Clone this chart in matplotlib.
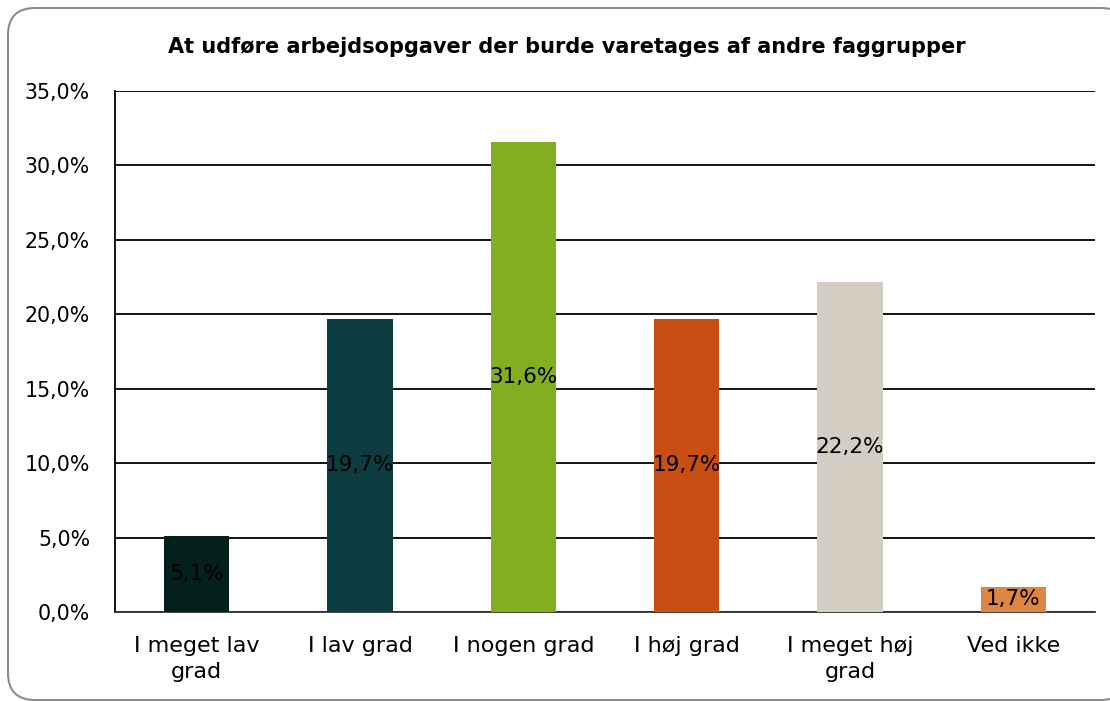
import matplotlib.pyplot as plt
from matplotlib.patches import FancyBboxPatch

categories = ["I meget lav\ngrad", "I lav grad", "I nogen grad", "I høj grad", "I meget høj\ngrad", "Ved ikke"]
values = [5.1, 19.7, 31.6, 19.7, 22.2, 1.7]
colors = ["#03201c", "#0d3c40", "#84ae22", "#c94e11", "#d4cec2", "#dd8641"]
yticks = [0, 5, 10, 15, 20, 25, 30, 35]

fig = plt.figure(figsize=(11.1, 7.01), dpi=100)
# afrundet ramme (i tommer)
frame = FancyBboxPatch((0.08, 0.01), 11.2, 6.92,
                       boxstyle="round,pad=0,rounding_size=0.27",
                       transform=fig.dpi_scale_trans, facecolor="white",
                       edgecolor="#8c8c8c", linewidth=1.5, zorder=-1)
fig.patches.append(frame)

ax = fig.add_axes([115 / 1110, 1 - 612 / 701, 980 / 1110, 521 / 701])
ax.set_facecolor("none")
x = range(len(categories))
bars = ax.bar(x, values, width=0.4, color=colors, zorder=3)
for b, v in zip(bars, values):
    ax.text(b.get_x() + b.get_width() / 2, v / 2, f"{v:.1f}%".replace(".", ","),
            ha="center", va="center", fontsize=15.5, color="black", zorder=4)

ax.set_xlim(-0.5, len(categories) - 0.5)
ax.set_ylim(0, 35)
ax.set_yticks(yticks)
ax.set_yticklabels([f"{t:.1f}%".replace(".", ",") for t in yticks], fontsize=14.8)
ax.set_xticks(list(x))
ax.set_xticklabels(categories, fontsize=16, linespacing=1.4)
ax.tick_params(length=0, pad=17)
ax.tick_params(axis="y", pad=18)
ax.yaxis.grid(True, color="black", linewidth=1.3, zorder=0)
for s in ["top", "right"]:
    ax.spines[s].set_visible(False)
ax.spines["left"].set_linewidth(1.3)
ax.spines["bottom"].set_linewidth(1.3)
ax.spines["bottom"].set_color("#333333")

fig.text(567 / 1110, 1 - 47 / 701, "At udføre arbejdsopgaver der burde varetages af andre faggrupper",
         ha="center", va="center", fontsize=15, fontweight="bold")

fig.savefig("out.png", dpi=100)
